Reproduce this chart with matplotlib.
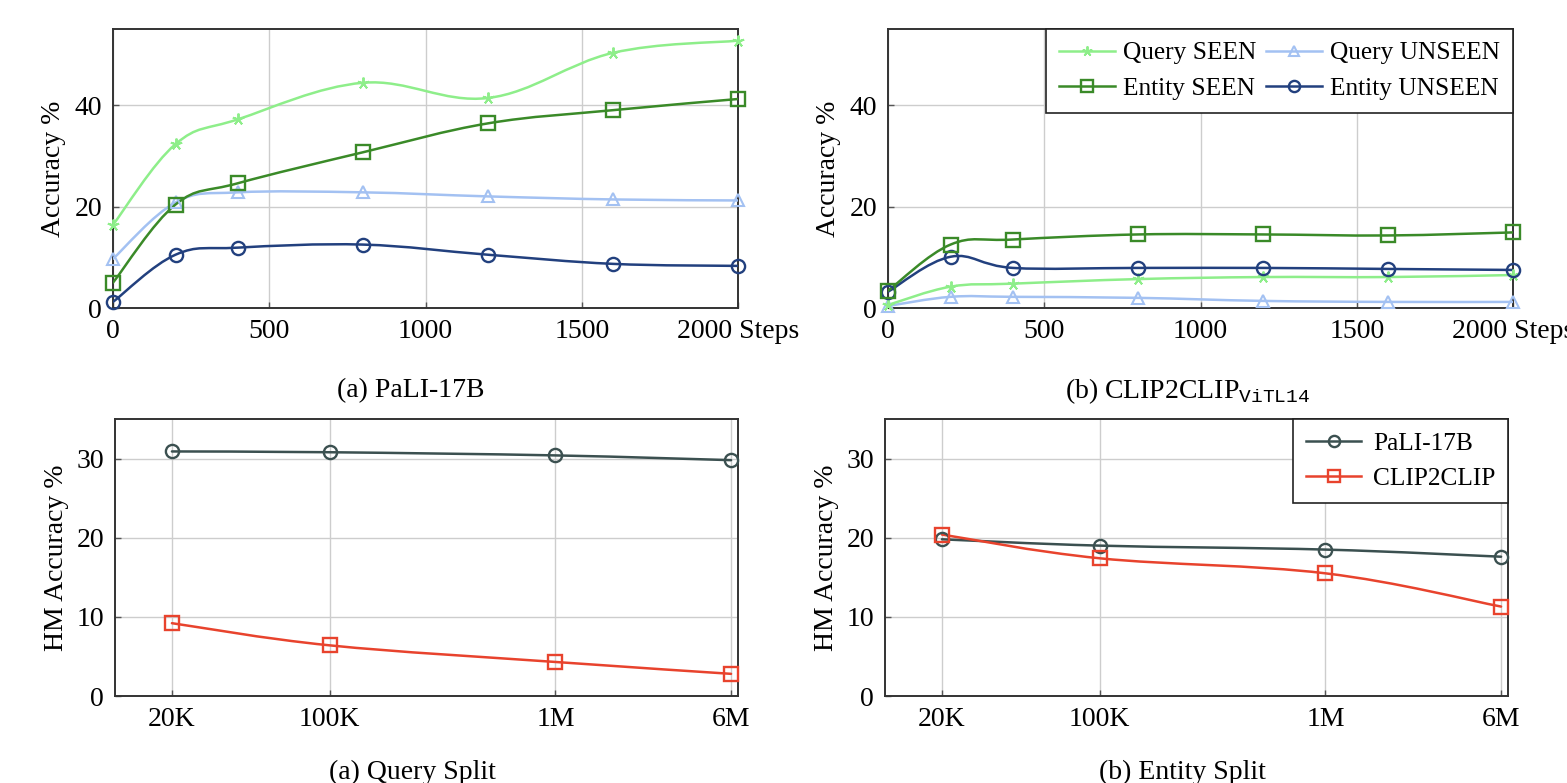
import numpy as np
import matplotlib
matplotlib.use("Agg")
import matplotlib.pyplot as plt
from matplotlib.path import Path
from matplotlib.patches import PathPatch
from matplotlib.lines import Line2D

plt.rcParams['font.family'] = ['Liberation Serif', 'DejaVu Serif']
plt.rcParams['mathtext.fontset'] = 'custom'
plt.rcParams['mathtext.rm'] = 'Liberation Serif'
plt.rcParams['mathtext.tt'] = 'Liberation Mono'

# ---------------- data ----------------
steps = [0, 200, 400, 800, 1200, 1600, 2000]
step_ticks = [0, 500, 1000, 1500, 2000]
step_labels = ["0", "500", "1000", "1500", "2000 Steps"]

pali_query_seen = [16.4, 32.3, 37.2, 44.4, 41.4, 50.3, 52.7]
pali_entity_seen = [5.0, 20.4, 24.6, 30.7, 36.4, 39.0, 41.2]
pali_query_unseen = [9.7, 20.8, 22.8, 22.8, 22.0, 21.4, 21.2]
pali_entity_unseen = [1.2, 10.5, 11.9, 12.5, 10.5, 8.7, 8.3]

clip_query_seen = [0.6, 4.2, 4.8, 5.7, 6.1, 6.1, 6.5]
clip_entity_seen = [3.4, 12.5, 13.5, 14.5, 14.5, 14.3, 14.9]
clip_query_unseen = [0.4, 2.2, 2.2, 2.0, 1.4, 1.2, 1.2]
clip_entity_unseen = [3.2, 10.1, 7.9, 7.9, 7.9, 7.7, 7.5]

sizes = [2e4, 1e5, 1e6, 6e6]
size_labels = ["20K", "100K", "1M", "6M"]

query_pali = [30.9, 30.8, 30.4, 29.8]
query_clip = [9.2, 6.4, 4.3, 2.8]
entity_pali = [19.8, 19.0, 18.5, 17.6]
entity_clip = [20.4, 17.4, 15.5, 11.3]

series_names = ["Query SEEN", "Entity SEEN", "Query UNSEEN", "Entity UNSEEN"]
size_names = ["PaLI-17B", "CLIP2CLIP"]

# ---------------- styles ----------------
C_QS = '#8EEE8A'
C_ES = '#3A8A28'
C_QU = '#A3C1F2'
C_EU = '#22407E'
C_PALI = '#3B5050'
C_CLIP = '#E8432D'

styles = {
    "Query SEEN": dict(color=C_QS, marker=(5, 2, 0), ms=8.5, mew=1.4),
    "Entity SEEN": dict(color=C_ES, marker='s', ms=9.5, mew=1.7),
    "Query UNSEEN": dict(color=C_QU, marker='^', ms=8, mew=1.5),
    "Entity UNSEEN": dict(color=C_EU, marker='o', ms=9.5, mew=1.7),
    "PaLI-17B": dict(color=C_PALI, marker='o', ms=9.5, mew=1.7),
    "CLIP2CLIP": dict(color=C_CLIP, marker='s', ms=9.5, mew=1.7),
}

FS = 20
LW = 1.8


def smooth_curve(ax, xs, ys, color, logx=False, t=0.18):
    xs = np.asarray(xs, float)
    ys = np.asarray(ys, float)
    xx = np.log10(xs) if logx else xs
    pts = np.column_stack([xx, ys])
    n = len(pts)
    verts = [pts[0]]
    codes = [Path.MOVETO]
    for i in range(n - 1):
        p0 = pts[i - 1] if i > 0 else pts[i]
        p1 = pts[i]
        p2 = pts[i + 1]
        p3 = pts[i + 2] if i + 2 < n else pts[i + 1]
        c1 = p1 + (p2 - p0) * t
        c2 = p2 - (p3 - p1) * t
        verts += [c1, c2, p2]
        codes += [Path.CURVE4] * 3
    verts = np.array(verts)
    if logx:
        verts[:, 0] = 10 ** verts[:, 0]
    patch = PathPatch(Path(verts, codes), facecolor='none', edgecolor=color,
                      lw=LW, zorder=3, capstyle='round', joinstyle='round')
    ax.add_patch(patch)


def draw_series(ax, xs, ys, name, logx=False):
    st = styles[name]
    smooth_curve(ax, xs, ys, st['color'], logx=logx)
    ax.plot(xs, ys, ls='none', marker=st['marker'], ms=st['ms'], mew=st['mew'],
            mec=st['color'], mfc='none', zorder=4, clip_on=False)


def handle(name, scale=0.85):
    st = styles[name]
    return Line2D([], [], color=st['color'], lw=LW, marker=st['marker'],
                  ms=st['ms'] * scale, mew=st['mew'], mec=st['color'], mfc='none')


def style_axes(ax):
    ax.grid(True, color='#cdcdcd', lw=1.0, zorder=0)
    ax.set_axisbelow(True)
    for sp in ax.spines.values():
        sp.set_color('#333333')
        sp.set_linewidth(1.4)
    ax.tick_params(direction='in', length=4, width=1.0, color='#555555',
                   labelsize=FS, pad=8, top=False, right=False)


W, H = 1567, 783
fig = plt.figure(figsize=(W / 100, H / 100), dpi=100)


def add_axes(l, r, t, b):
    return fig.add_axes([l / W, 1 - b / H, (r - l) / W, (b - t) / H])


ax1 = add_axes(113, 738, 29, 308)
ax2 = add_axes(888, 1513, 29, 308)
ax3 = add_axes(115, 738, 419, 696)
ax4 = add_axes(885, 1508, 419, 696)

top_data = [
    (ax1, [pali_query_seen, pali_entity_seen, pali_query_unseen, pali_entity_unseen]),
    (ax2, [clip_query_seen, clip_entity_seen, clip_query_unseen, clip_entity_unseen]),
]
for ax, vals in top_data:
    order = ["Query UNSEEN", "Query SEEN", "Entity UNSEEN", "Entity SEEN"]
    for nm in order:
        draw_series(ax, steps, vals[series_names.index(nm)], nm)
    ax.set_xlim(0, 2000)
    ax.set_ylim(0, 55)
    ax.set_xticks(step_ticks)
    ax.set_xticklabels(step_labels)
    ax.set_yticks([0, 20, 40])
    ax.set_ylabel("Accuracy %", fontsize=FS, labelpad=6)
    style_axes(ax)

LFS = 18.3
leg = ax2.legend([handle(n) for n in series_names], series_names, ncol=2,
                 loc='upper right', borderaxespad=0, fontsize=LFS, frameon=True,
                 fancybox=False, edgecolor='#222222', framealpha=1,
                 handlelength=2.2, handletextpad=0.32, columnspacing=0.4,
                 labelspacing=0.5, borderpad=0.5)
leg.get_frame().set_linewidth(1.2)

bottom_data = [
    (ax3, query_pali, query_clip),
    (ax4, entity_pali, entity_clip),
]
for ax, pv, cv in bottom_data:
    draw_series(ax, sizes, pv, "PaLI-17B", logx=True)
    draw_series(ax, sizes, cv, "CLIP2CLIP", logx=True)
    ax.set_xscale('log')
    ax.set_xlim(11190, 6.44e6)
    ax.set_ylim(0, 35)
    ax.set_xticks(sizes)
    ax.set_xticklabels(size_labels)
    ax.xaxis.set_minor_locator(matplotlib.ticker.NullLocator())
    ax.set_yticks([0, 10, 20, 30])
    ax.set_ylabel("HM Accuracy %", fontsize=FS, labelpad=5)
    style_axes(ax)

leg2 = ax4.legend([handle(n) for n in size_names], size_names, loc='upper right',
                  borderaxespad=0, fontsize=LFS, frameon=True, fancybox=False,
                  edgecolor='#222222', framealpha=1, handlelength=2.2,
                  handletextpad=0.45, labelspacing=0.5, borderpad=0.5)
leg2.get_frame().set_linewidth(1.2)

CFS = 20
fig.text(411 / W, 1 - 391 / H, "(a) PaLI-17B", ha='center', va='center', fontsize=CFS)
fig.text(1187 / W, 1 - 391 / H, r"(b) CLIP2CLIP$_{\mathtt{ViTL14}}$", ha='center',
         va='center', fontsize=CFS)
fig.text(412 / W, 1 - 772 / H, "(a) Query Split", ha='center', va='center', fontsize=CFS)
fig.text(1182 / W, 1 - 772 / H, "(b) Entity Split", ha='center', va='center', fontsize=CFS)

fig.savefig("out.png", dpi=100)
